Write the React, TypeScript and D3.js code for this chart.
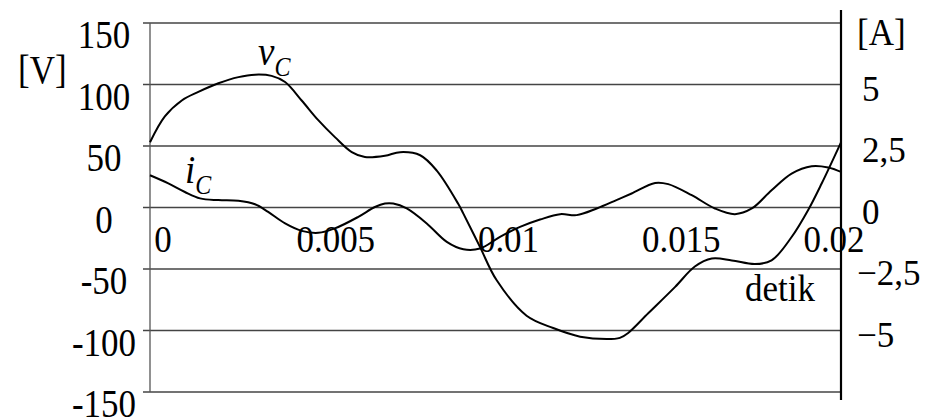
import * as d3 from 'd3';
import type { ReactNode } from 'react';

// time in milliseconds
const vcTimes = [0, 0.43, 0.92, 1.4, 1.98, 2.56, 3.04, 3.52, 3.91, 4.39, 4.87, 5.36, 5.84, 6.22, 6.8, 7.24, 7.82, 8.3, 8.92, 9.07, 9.55, 10.03, 10.9, 11.67, 12.45, 13.22, 13.6, 13.84, 14.42, 15.2, 15.77, 16.26, 16.84, 17.51, 17.99, 18.57, 19.05, 19.44, 20];
const vcValues = [53, 74, 87, 94, 101, 106, 108, 107, 102, 87, 71, 57, 45, 41, 42, 45, 42.5, 30, 3, -5, -32, -59, -88, -98, -105, -107, -106, -102, -86, -64.5, -48, -41.5, -43, -46, -43, -24, -2, 19.5, 53];

const icTimes = [0, 0.53, 1.01, 1.45, 1.98, 2.56, 3.04, 3.42, 3.91, 4.39, 4.87, 5.35, 6.03, 6.51, 6.8, 7.04, 7.43, 8.01, 8.59, 9.07, 9.55, 10.13, 10.71, 11.29, 11.87, 12.35, 12.93, 13.5, 13.94, 14.62, 15.0, 15.68, 16.35, 16.93, 17.42, 17.99, 18.57, 19.15, 19.63, 20];
const icValues = [1.31, 0.98, 0.63, 0.37, 0.3, 0.27, 0.13, -0.18, -0.65, -0.95, -1.03, -0.85, -0.38, 0.02, 0.16, 0.16, -0.04, -0.65, -1.4, -1.7, -1.67, -1.19, -0.79, -0.49, -0.27, -0.31, -0.04, 0.3, 0.57, 1.0, 0.95, 0.5, -0.04, -0.27, -0.04, 0.7, 1.38, 1.68, 1.63, 1.45];

const voltTicks = [150, 100, 50, 0, -50, -100, -150];
const ampTicks = [5, 2.5, 0, -2.5, -5];
const timeTicks = [0, 5, 10, 15, 20];
const timeLabels = ['0', '0.005', '0.01', '0.015', '0.02'];

const FONT = '"Liberation Serif", "Times New Roman", serif';

// the scan is a bit taller than wide, so stretch text vertically around its baseline
function T({ x, y, sy = 1, anchor = 'start', children, ...rest }: { x: number; y: number; sy?: number; anchor?: string; children: ReactNode; [k: string]: unknown }) {
  return (
    <text transform={`translate(${x},${y}) scale(1,${sy})`} textAnchor={anchor} {...rest}>{children}</text>
  );
}

export default function App() {
  const W = 929;
  const H = 419;
  const x = d3.scaleLinear().domain([0, 20]).range([150, 841]);
  const yV = d3.scaleLinear().domain([-150, 150]).range([392, 23]);
  const yA = d3.scaleLinear().domain([-7.5, 7.5]).range([392, 23]);

  const curve = d3.curveCatmullRom.alpha(0.5);
  const vcLine = d3.line<number>().x((_, i) => x(vcTimes[i])).y(d => yV(d)).curve(curve);
  const icLine = d3.line<number>().x((_, i) => x(icTimes[i])).y(d => yA(d)).curve(curve);

  const fmtAmp = (v: number) => String(v).replace('.', ',').replace('-', '\u2212');

  return (
    <svg width={W} height={H} viewBox={`0 0 ${W} ${H}`}
      style={{ position: 'absolute', left: 0, top: 0, background: '#fff' }}
      fontFamily={FONT} fontSize={35} fill="#000">
      {/* grid lines with left tick stubs */}
      {voltTicks.map(v => (
        <line key={'g' + v} x1={x(0) - 7} x2={x(20)} y1={yV(v)} y2={yV(v)} stroke="#444" strokeWidth={1.3} />
      ))}
      <line x1={x(0)} x2={x(0)} y1={yV(150)} y2={yV(-150)} stroke="#555" strokeWidth={1.3} />
      <line x1={x(20)} x2={x(20)} y1={10} y2={400} stroke="#000" strokeWidth={2.2} />

      {/* curves */}
      <path d={vcLine(vcValues) ?? ''} fill="none" stroke="#000" strokeWidth={2} />
      <path d={icLine(icValues) ?? ''} fill="none" stroke="#000" strokeWidth={2} />

      {/* left axis */}
      {voltTicks.map(v => (
        <T key={'v' + v} x={104} y={yV(v) + 25} sy={1.12} anchor="middle">{String(v)}</T>
      ))}
      <T x={18} y={83} sy={1.12}>[V]</T>

      {/* right axis */}
      {ampTicks.map(v => (
        <T key={'a' + v} x={v < 0 ? 857 : 862} y={yA(v) + 16} sy={1.02}>{fmtAmp(v)}</T>
      ))}
      <T x={857} y={45} sy={1.08}>[A]</T>

      {/* time axis */}
      {timeTicks.map((t, i) => (
        <T key={'t' + t} x={x(t) + (i === timeTicks.length - 1 ? -7 : 13)} y={yV(0) + 44} sy={1.06} anchor="middle">{timeLabels[i]}</T>
      ))}
      <T x={x(20) - 61} y={yV(-50) + 32} sy={1.06} anchor="middle">detik</T>

      {/* curve labels */}
      <T x={258} y={65} sy={1.1} fontStyle="italic" fontSize={37}>v<tspan fontSize={24} dy={10}>C</tspan></T>
      <T x={185} y={183} sy={1.1} fontStyle="italic" fontSize={37}>i<tspan fontSize={24} dy={10}>C</tspan></T>
    </svg>
  );
}
